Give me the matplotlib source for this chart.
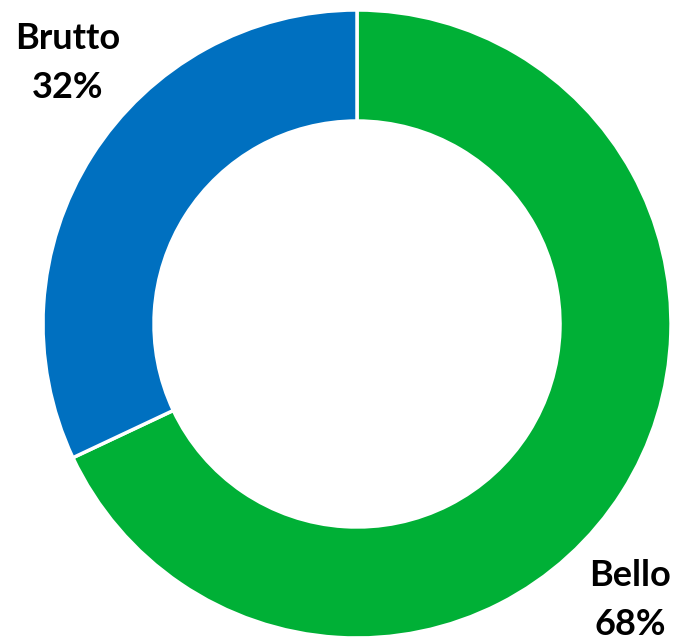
import matplotlib.pyplot as plt

# data
labels = ["Bello", "Brutto"]
shares = [68, 32]
colors = ["#00B036", "#0070C0"]

plt.rcParams["font.family"] = ["Lato", "DejaVu Sans"]

fig = plt.figure(figsize=(6.82, 6.40), dpi=100)
ax = fig.add_axes([0, 0, 1, 1])

ax.pie(
    shares,
    colors=colors,
    startangle=90,
    counterclock=False,
    center=(357, 316),
    radius=314,
    wedgeprops=dict(width=111, edgecolor="white", linewidth=2.5),
    frame=True,
)
ax.set_xlim(0, 682)
ax.set_ylim(0, 640)
ax.set_aspect("equal")
ax.axis("off")

# labels outside the ring
label_pos = {"Brutto": (68, 577), "Bello": (630, 40)}
for name, pct in zip(labels, shares):
    x, y = label_pos[name]
    ax.text(x, y, f"{name}\n{pct}%", ha="center", va="center",
            fontsize=26, fontweight="bold", color="black", linespacing=1.6)

fig.savefig("out.png", dpi=100)
